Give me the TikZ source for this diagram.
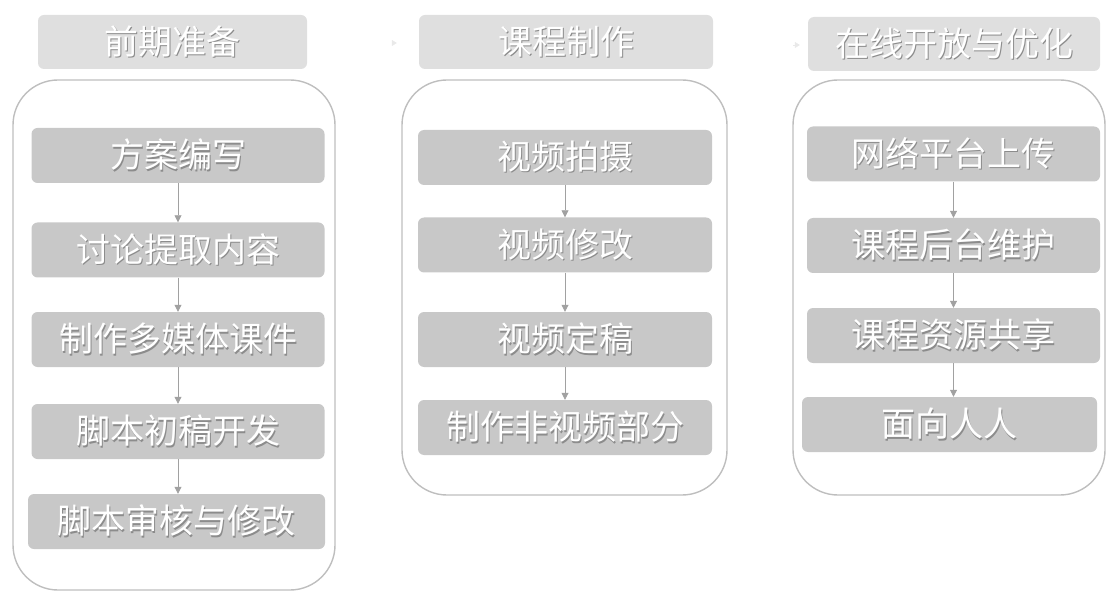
\documentclass[tikz,border=0pt]{standalone}
\usepackage{fontspec}
\newfontfamily\cjk{Noto Sans CJK SC}
\usetikzlibrary{arrows.meta}
\definecolor{hdrgray}{HTML}{DFDFDF}
\definecolor{stepgray}{HTML}{C8C8C8}
\definecolor{framegray}{HTML}{BEBEBE}
\definecolor{shadegray}{HTML}{8C8C8C}
\definecolor{flowgray}{HTML}{8A8A8A}
\newcommand{\embtxt}[1]{\makebox[0pt][l]{\hspace{1.2pt}\raisebox{-1.2pt}{\color{shadegray}#1}}{\color{white}#1}}

\begin{document}
\begin{tikzpicture}[x=1pt,y=-1pt]
\tikzstyle{every node}+=[inner sep=0pt, font=\cjk\fontsize{34}{40}\selectfont]
\tikzstyle{hdr}=[fill=hdrgray, rounded corners=6pt, minimum height=54pt]
\tikzstyle{stepbox}=[fill=stepgray, rounded corners=6pt, minimum width=293pt, minimum height=55pt]
\tikzstyle{frame}=[draw=framegray, line width=1.4pt, rounded corners=45pt]
\tikzstyle{flow}=[draw=flowgray!80, line width=0.8pt, -{Triangle[width=7pt,length=7pt]}]
\tikzstyle{hdrflow}=[draw=hdrgray!70, line width=0.5pt, -{Triangle[width=6pt,length=5pt]}]
\useasboundingbox (0,0) rectangle (1107,593);
% stage frames
\draw [frame] (13,80) rectangle (335,590);
\draw [frame] (402,80) rectangle (727,495);
\draw [frame] (793,80) rectangle (1105,495);
% stage titles
\node [hdr, minimum width=269pt] (h1) at (172.5,42) {\embtxt{前期准备}};
\node [hdr, minimum width=294pt] (h2) at (566,42) {\embtxt{课程制作}};
\node [hdr, minimum width=292pt] (h3) at (954,44) {\embtxt{在线开放与优化}};
\coordinate (h2in) at (392,43);
\coordinate (h3in) at (793,45);
\draw [hdrflow] (h2in) -- ([xshift=-22pt]h2.west |- h2in);
\draw [hdrflow] (h3in) -- ([xshift=-8pt]h3.west |- h3in);
% stage 1
\node [stepbox] (a1) at (178,155.5) {\embtxt{方案编写}};
\node [stepbox] (a2) at (178,250) {\embtxt{讨论提取内容}};
\node [stepbox] (a3) at (178,339.5) {\embtxt{制作多媒体课件}};
\node [stepbox] (a4) at (178,431.5) {\embtxt{脚本初稿开发}};
\node [stepbox, minimum width=297pt] (a5) at (176.5,521.5) {\embtxt{脚本审核与修改}};
\draw [flow] (a1) -- (a2);
\draw [flow] (a2) -- (a3);
\draw [flow] (a3) -- (a4);
\draw [flow] (a4) -- (a5.north -| a4);
% stage 2
\node [stepbox, minimum width=294pt] (b1) at (565,157.5) {\embtxt{视频拍摄}};
\node [stepbox, minimum width=294pt] (b2) at (565,245) {\embtxt{视频修改}};
\node [stepbox, minimum width=294pt] (b3) at (565,339.5) {\embtxt{视频定稿}};
\node [stepbox, minimum width=294pt] (b4) at (565,427.5) {\embtxt{制作非视频部分}};
\draw [flow] (b1) -- (b2);
\draw [flow] (b2) -- (b3);
\draw [flow] (b3) -- (b4);
% stage 3
\node [stepbox] (c1) at (953.5,154) {\embtxt{网络平台上传}};
\node [stepbox] (c2) at (953.5,245.5) {\embtxt{课程后台维护}};
\node [stepbox] (c3) at (953.5,335.5) {\embtxt{课程资源共享}};
\node [stepbox, minimum width=295pt] (c4) at (949.5,424.5) {\embtxt{面向人人}};
\draw [flow] (c1) -- (c2);
\draw [flow] (c2) -- (c3);
\draw [flow] (c3) -- (c4.north -| c3);
\end{tikzpicture}
\end{document}
